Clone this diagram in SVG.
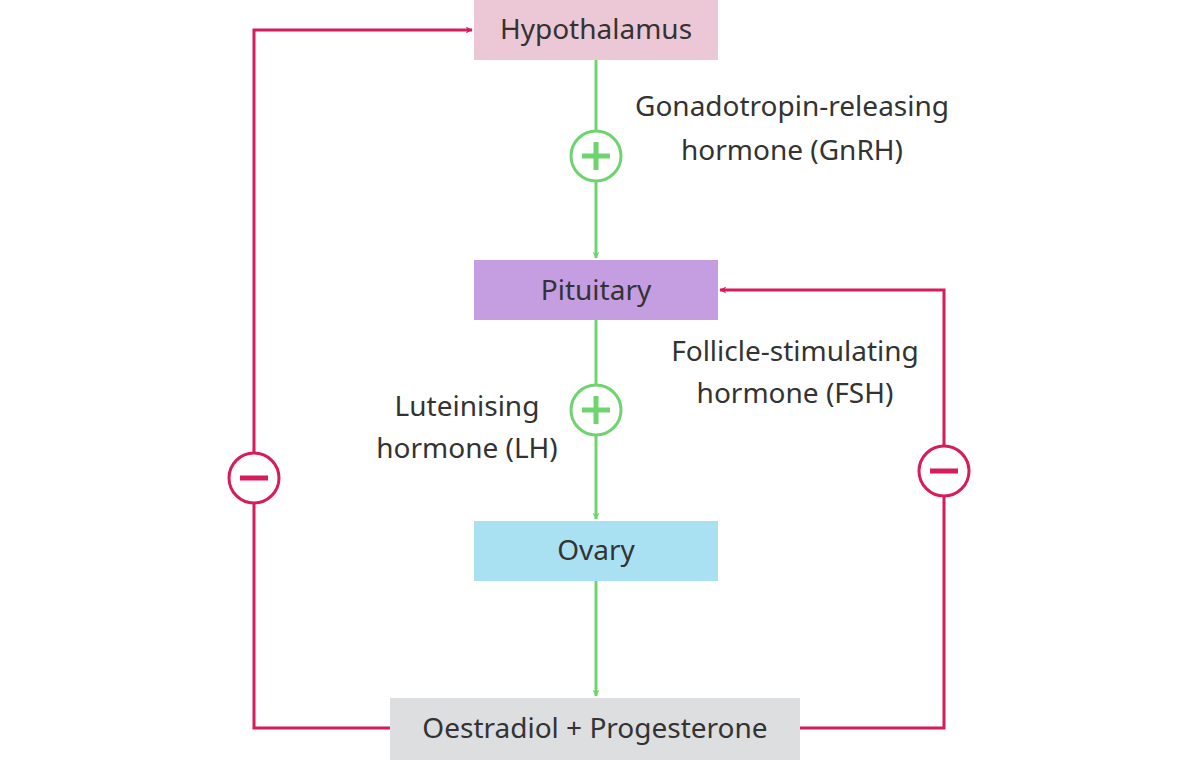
<svg xmlns="http://www.w3.org/2000/svg" width="1200" height="760" viewBox="0 0 1200 760">
<style>
text{font-family:"Noto Sans","Open Sans",sans-serif;font-size:28px;fill:#333}
.c{text-anchor:middle}
.g{stroke:#6fd46f;stroke-width:3;fill:none}
.r{stroke:#d81b5c;stroke-width:3;fill:none}
</style>
<defs>
<marker id="ag" viewBox="0 0 10 10" refX="9" refY="5" markerWidth="7" markerHeight="7" markerUnits="userSpaceOnUse" orient="auto"><path d="M0,0 L10,5 L0,10 L3,5 z" fill="#6fd46f"/></marker>
<marker id="ar" viewBox="0 0 10 10" refX="9" refY="5" markerWidth="7" markerHeight="7" markerUnits="userSpaceOnUse" orient="auto"><path d="M0,0 L10,5 L0,10 L3,5 z" fill="#d81b5c"/></marker>
</defs>
<rect width="1200" height="760" fill="#fff"/>
<g id="connectors">
<path class="g" d="M596,60 V258" marker-end="url(#ag)" style="marker-end:url(#ag)"/>
<path class="g" d="M596,320 V519" marker-end="url(#ag)"/>
<path class="g" d="M596,581 V696" marker-end="url(#ag)"/>
<path class="r" d="M390,728 H254 V30 H472" marker-end="url(#ar)"/>
<path class="r" d="M800,728 H944 V290 H720" marker-end="url(#ar)"/>
<g><circle cx="596" cy="156" r="25" fill="#fff" stroke="#6fd46f" stroke-width="3"/><path d="M582,156 H610 M596,142 V170" stroke="#6fd46f" stroke-width="5"/></g>
<g><circle cx="596" cy="410" r="25" fill="#fff" stroke="#6fd46f" stroke-width="3"/><path d="M582,410 H610 M596,396 V424" stroke="#6fd46f" stroke-width="5"/></g>
<g><circle cx="254" cy="478" r="25" fill="#fff" stroke="#d81b5c" stroke-width="3"/><path d="M240,478 H268" stroke="#d81b5c" stroke-width="5"/></g>
<g><circle cx="944" cy="471" r="25" fill="#fff" stroke="#d81b5c" stroke-width="3"/><path d="M930,471 H958" stroke="#d81b5c" stroke-width="5"/></g>
<text x="792" y="116" class="c">Gonadotropin-releasing</text>
<text x="792" y="160" class="c">hormone (GnRH)</text>
<text x="795" y="361" class="c">Follicle-stimulating</text>
<text x="795" y="403" class="c">hormone (FSH)</text>
<text x="467" y="416" class="c">Luteinising</text>
<text x="467" y="458" class="c">hormone (LH)</text>
</g>
<g id="hypothalamus"><rect x="474" y="0" width="244" height="60" fill="#ecc8d6"/><text x="596" y="39" class="c">Hypothalamus</text></g>
<g id="pituitary"><rect x="474" y="260" width="244" height="60" fill="#c49ee0"/><text x="596" y="300" class="c">Pituitary</text></g>
<g id="ovary"><rect x="474" y="521" width="244" height="60" fill="#a9e1f3"/><text x="596" y="560" class="c">Ovary</text></g>
<g id="oestradiol"><rect x="390" y="698" width="410" height="62" fill="#dcdedf"/><text x="595" y="738" class="c">Oestradiol + Progesterone</text></g>
</svg>
